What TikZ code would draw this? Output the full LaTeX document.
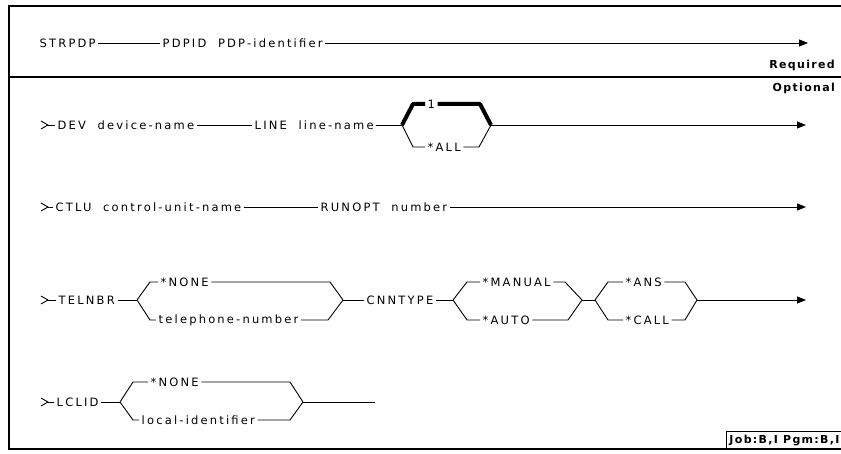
\documentclass[tikz,border=0pt]{standalone}
\usepackage{fontspec}
\newfontfamily\plotfont[LetterSpace=19, WordSpace=2]{DejaVu Sans}
\newfontfamily\plotbold[LetterSpace=12]{DejaVu Sans}
\usetikzlibrary{arrows.meta}
\tikzset{
  kw/.style={anchor=west, inner sep=2.5pt,
    font=\plotfont\fontsize{11.5}{13}\selectfont},
  tag/.style={anchor=east, inner sep=1pt,
    font=\plotbold\bfseries\fontsize{11}{13}\selectfont},
  rail/.style={line width=0.9pt, line join=round},
  railB/.style={line width=4pt, line join=round},
  railA/.style={rail, -{Triangle[length=9pt,width=7pt]}},
  frm/.style={line width=1.4pt},
}
\newcommand{\railstart}[1]{\draw[rail] (#1) ++(-7,-4) -- ++(7,4) -- ++(-7,4);}

\begin{document}
\begin{tikzpicture}[x=1pt, y=-1pt]
  \useasboundingbox (0,0) rectangle (841,454);

  % Frame and required/optional split
  \draw[frm] (841,6) -- (9,6) -- (9,449) -- (841,449);
  \draw[frm] (9,77) -- (841,77);
  \node[tag] (req) at (836,65) {Required};
  \node[tag] (opt) at (836,88) {Optional};
  \node[tag, draw, line width=1pt, inner sep=3pt, anchor=south east]
       (jobbox) at (843,449) {Job:B,I Pgm:B,I};

  % STRPDP
  \node[kw] (strpdp) at (37,43) {STRPDP};
  \node[kw] (pdpid) at (160,43) {PDPID PDP-identifier};
  \coordinate (end1) at (808,43);
  \draw[rail] (strpdp) -- (pdpid);
  \draw[railA] (pdpid) -- (end1);

  % DEV / LINE
  \coordinate (s2) at (48,125);
  \railstart{s2}
  \node[kw] (dev) at (55,125) {DEV device-name};
  \node[kw] (line) at (252,125) {LINE line-name};
  \coordinate (j2a) at (402,125);
  \coordinate (j2b) at (491,125);
  \node[kw] (one) at (425,104) {1};
  \node[kw] (all) at (425,147) {*ALL};
  \coordinate (end2) at (806,125);
  \draw[rail] (s2) -- (dev);
  \draw[rail] (dev) -- (line);
  \draw[rail] (line) -- (j2a);
  \draw[railB] (j2a) -- (413,104) -- (one);
  \draw[railB] (one) -- (480,104) -- (j2b);
  \draw[rail] (j2a) -- (413,147) -- (all);
  \draw[rail] (all) -- (479,147) -- (j2b);
  \draw[railA] (j2b) -- (end2);

  % CTLU / RUNOPT
  \coordinate (s3) at (48,207);
  \railstart{s3}
  \node[kw] (ctlu) at (53,207) {CTLU control-unit-name};
  \node[kw] (runopt) at (318,207) {RUNOPT number};
  \coordinate (end3) at (806,207);
  \draw[rail] (s3) -- (ctlu);
  \draw[rail] (ctlu) -- (runopt);
  \draw[railA] (runopt) -- (end3);

  % TELNBR / CNNTYPE
  \coordinate (s4) at (48,300);
  \railstart{s4}
  \node[kw] (telnbr) at (56,300) {TELNBR};
  \coordinate (j4a) at (137,300);
  \coordinate (j4b) at (343,300);
  \node[kw] (none4) at (158,282) {*NONE};
  \node[kw] (telno) at (156,320) {telephone-number};
  \node[kw] (cnntype) at (364,300) {CNNTYPE};
  \coordinate (j4c) at (453,300);
  \coordinate (j4d) at (582,300);
  \node[kw] (manual) at (480,282) {*MANUAL};
  \node[kw] (auto) at (480,320) {*AUTO};
  \coordinate (j4e) at (595,300);
  \coordinate (j4f) at (697,300);
  \node[kw] (ans) at (623,282) {*ANS};
  \node[kw] (call) at (623,320) {*CALL};
  \coordinate (end4) at (806,300);
  \draw[rail] (s4) -- (telnbr);
  \draw[rail] (telnbr) -- (j4a);
  \draw[rail] (j4a) -- (150,282) -- (none4);
  \draw[rail] (none4) -- (330,282) -- (j4b);
  \draw[rail] (j4a) -- (150,320) -- (telno);
  \draw[rail] (telno) -- (328,320) -- (j4b);
  \draw[rail] (j4b) -- (cnntype);
  \draw[rail] (cnntype) -- (j4c);
  \draw[rail] (j4c) -- (467,282) -- (manual);
  \draw[rail] (manual) -- (565,282) -- (j4d);
  \draw[rail] (j4c) -- (467,320) -- (auto);
  \draw[rail] (auto) -- (568,320) -- (j4d);
  \draw[rail] (j4d) -- (j4e);
  \draw[rail] (j4e) -- (608,282) -- (ans);
  \draw[rail] (ans) -- (685,282) -- (j4f);
  \draw[rail] (j4e) -- (608,320) -- (call);
  \draw[rail] (call) -- (685,320) -- (j4f);
  \draw[railA] (j4f) -- (end4);

  % LCLID
  \coordinate (s5) at (48,402);
  \railstart{s5}
  \node[kw] (lclid) at (54,402) {LCLID};
  \coordinate (j5a) at (120,402);
  \coordinate (j5b) at (303,402);
  \node[kw] (none5) at (148,382) {*NONE};
  \node[kw] (localid) at (139,420) {local-identifier};
  \coordinate (end5) at (375,402);
  \draw[rail] (s5) -- (lclid);
  \draw[rail] (lclid) -- (j5a);
  \draw[rail] (j5a) -- (133,382) -- (none5);
  \draw[rail] (none5) -- (290,382) -- (j5b);
  \draw[rail] (j5a) -- (133,420) -- (localid);
  \draw[rail] (localid) -- (290,420) -- (j5b);
  \draw[rail] (j5b) -- (end5);
\end{tikzpicture}
\end{document}
